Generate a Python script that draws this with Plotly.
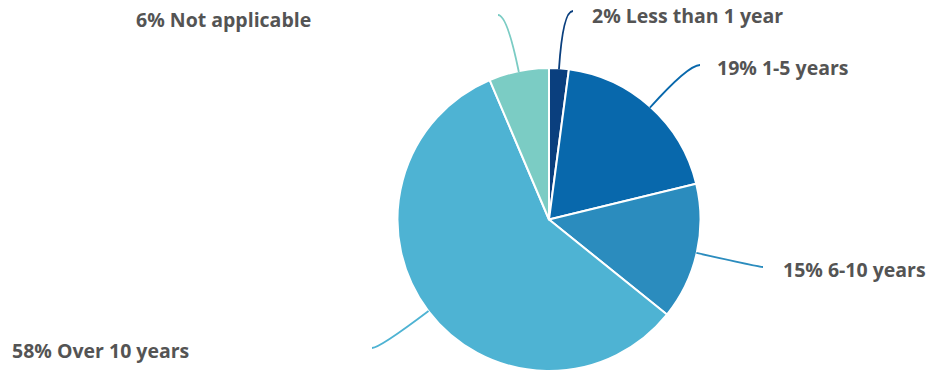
import math
import plotly.graph_objects as go

# ---- data ----
categories = ["Less than 1 year", "1-5 years", "6-10 years", "Over 10 years", "Not applicable"]
values = [2.1, 19.1, 14.6, 57.8, 6.4]
colors = ["#0a3f7e", "#0868ac", "#2b8cbe", "#4eb3d3", "#7bccc4"]

# ---- layout (pixels) ----
W, H = 936, 371
CX, CY, R = 549, 220, 151
# label text anchor (left x, middle y) and leader line end, in pixels
label_pos = [(590, 15), (715, 67), (781, 269), (10, 350), (134, 19)]
line_end = [(573, 11), (700, 65), (763, 267), (372, 348), (498, 15)]

def px(x):
    return x / W

def py(y):
    return 1 - y / H

top = CY - R - 1
fig = go.Figure(go.Pie(
    labels=categories,
    values=values,
    sort=False,
    direction="clockwise",
    rotation=0,
    marker=dict(colors=colors, line=dict(color="white", width=2)),
    textinfo="none",
    hoverinfo="label+percent",
    domain=dict(x=[px(CX - R - 1), px(CX + R + 1)],
                y=[max(0.0, py(2 * CY - top)), py(top)]),
    showlegend=False,
))

total = sum(values)
cum = 0
shapes = []
annotations = []
for i, v in enumerate(values):
    mid = (cum + v / 2) / total * 2 * math.pi
    cum += v
    dx, dy = math.sin(mid), -math.cos(mid)
    sx, sy = CX + R * dx, CY + R * dy
    ex, ey = line_end[i]
    # control point: where radial direction meets horizontal through the end
    if abs(dy) > 1e-6:
        t = (ey - sy) / dy
        t = max(t, 5)
    else:
        t = abs(ex - sx) / 2
    cx_, cy_ = sx + dx * t, sy + dy * t
    cy_ = ey if abs(dy) > 1e-6 else cy_
    path = f"M {px(sx)},{py(sy)} Q {px(cx_)},{py(cy_)} {px(ex)},{py(ey)}"
    shapes.append(dict(type="path", path=path, xref="paper", yref="paper",
                       line=dict(color=colors[i], width=1.8)))
    lx, ly = label_pos[i]
    pct = round(v / total * 100)
    annotations.append(dict(
        x=px(lx), y=py(ly), xref="paper", yref="paper",
        xanchor="left", yanchor="middle", showarrow=False,
        text=f"<b>{pct}% {categories[i]}</b>",
        font=dict(family="Open Sans", size=19.5, color="#545454"),
    ))

fig.update_layout(
    width=W, height=H,
    margin=dict(l=0, r=0, t=0, b=0),
    paper_bgcolor="white",
    plot_bgcolor="white",
    shapes=shapes,
    annotations=annotations,
)

fig.write_html("out.html", config={"displayModeBar": False},
               post_script="document.body.style.margin='0';")
